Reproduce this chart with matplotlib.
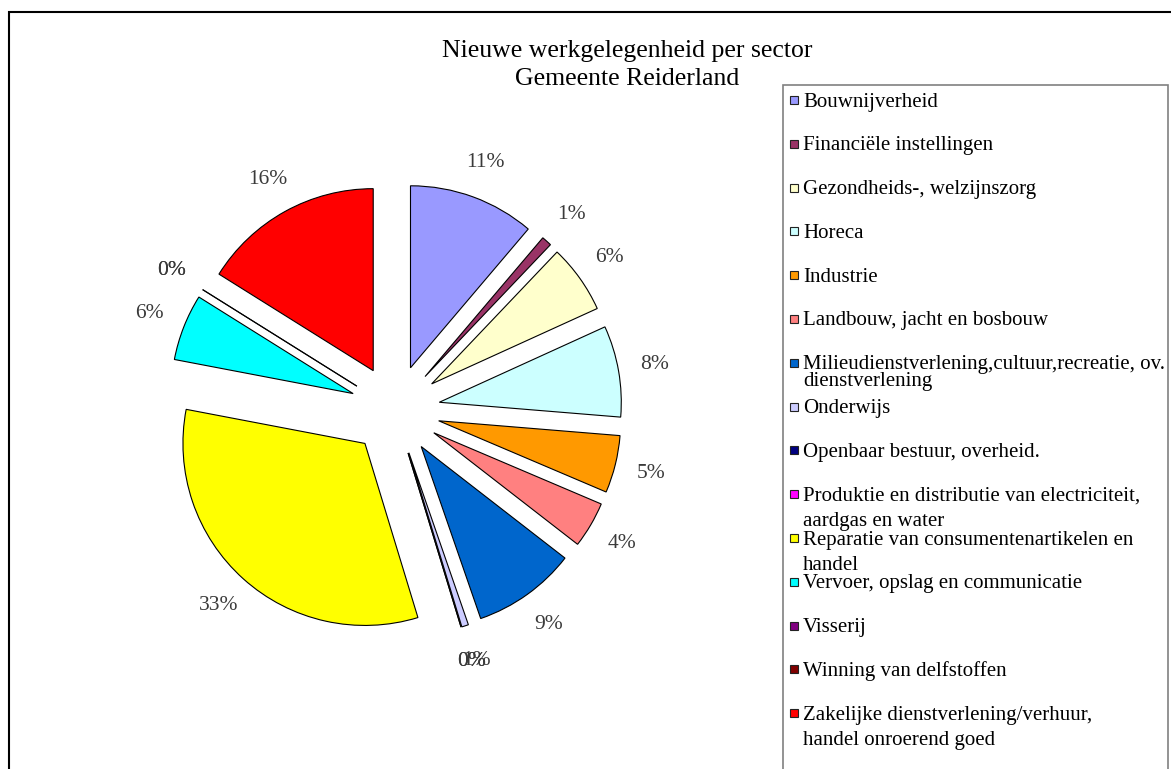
import matplotlib.pyplot as plt
from matplotlib.patches import Rectangle

# sectors (legend order) and their share in percent
sectors = [
    "Bouwnijverheid",
    "Financiële instellingen",
    "Gezondheids-, welzijnszorg",
    "Horeca",
    "Industrie",
    "Landbouw, jacht en bosbouw",
    "Milieudienstverlening,cultuur,recreatie, ov.\ndienstverlening",
    "Onderwijs",
    "Openbaar bestuur, overheid.",
    "Produktie en distributie van electriciteit,\naardgas en water",
    "Reparatie van consumentenartikelen en\nhandel",
    "Vervoer, opslag en communicatie",
    "Visserij",
    "Winning van delfstoffen",
    "Zakelijke dienstverlening/verhuur,\nhandel onroerend goed",
]
shares = [11.2, 0.9, 6.1, 8.1, 5.1, 4.1, 9.2, 0.6, 0.0, 0.0, 32.7, 5.9, 0.0, 0.0, 16.1]
colors = ["#9999FF", "#993366", "#FFFFCC", "#CCFFFF", "#FF9900", "#FF8080",
          "#0066CC", "#CCCCFF", "#000080", "#FF00FF", "#FFFF00", "#00FFFF",
          "#800080", "#800000", "#FF0000"]

W, H = 1171, 769
SERIF = ["Liberation Serif", "DejaVu Serif"]
plt.rcParams["font.family"] = SERIF


def px(x, y):
    return x / W, 1 - y / H


fig = plt.figure(figsize=(W / 100, H / 100), dpi=100)

# outer chart frame
fig.patches.append(Rectangle(px(9, 800), (1200 - 9) / W, (800 - 12) / H,
                             transform=fig.transFigure, fill=False,
                             edgecolor="black", linewidth=1.5))

# pie, centre at (395, 410) px, radius 182 px
cx, cy, R = 395, 410, 182
half = 2 * R
ax = fig.add_axes([(cx - half) / W, (H - cy - half) / H, 2 * half / W, 2 * half / H])
ax.pie(shares, colors=colors, startangle=90, counterclock=False,
       explode=[0.247] * len(shares), radius=1,
       autopct=lambda p: f"{p:.0f}%", pctdistance=1.2,
       wedgeprops=dict(edgecolor="black", linewidth=0.8),
       textprops=dict(fontsize=15.5, color="#3a3a3a", family=SERIF))
ax.set_xlim(-2, 2)
ax.set_ylim(-2, 2)
ax.set_aspect("equal")
ax.axis("off")

# title
fig.text(*px(627, 65), "Nieuwe werkgelegenheid per sector\nGemeente Reiderland",
         ha="center", va="center", fontsize=18.5, linespacing=1.3)

# legend box
fig.patches.append(Rectangle(px(783, 800), (1168 - 783) / W, (800 - 85) / H,
                             transform=fig.transFigure, fill=False,
                             edgecolor="#808080", linewidth=1.2))
for i, (name, col) in enumerate(zip(sectors, colors)):
    y = 102 + i * 43.8
    fig.patches.append(Rectangle(px(790, y + 2), 8 / W, 8 / H,
                                 transform=fig.transFigure, facecolor=col,
                                 edgecolor="#222222", linewidth=0.8))
    gap = 17 if i == 6 else 25.5
    for k, line in enumerate(name.split("\n")):
        fig.text(*px(803, y + k * gap), line, ha="left", va="center",
                 fontsize=15, color="black")

fig.savefig("out.png", dpi=100)
